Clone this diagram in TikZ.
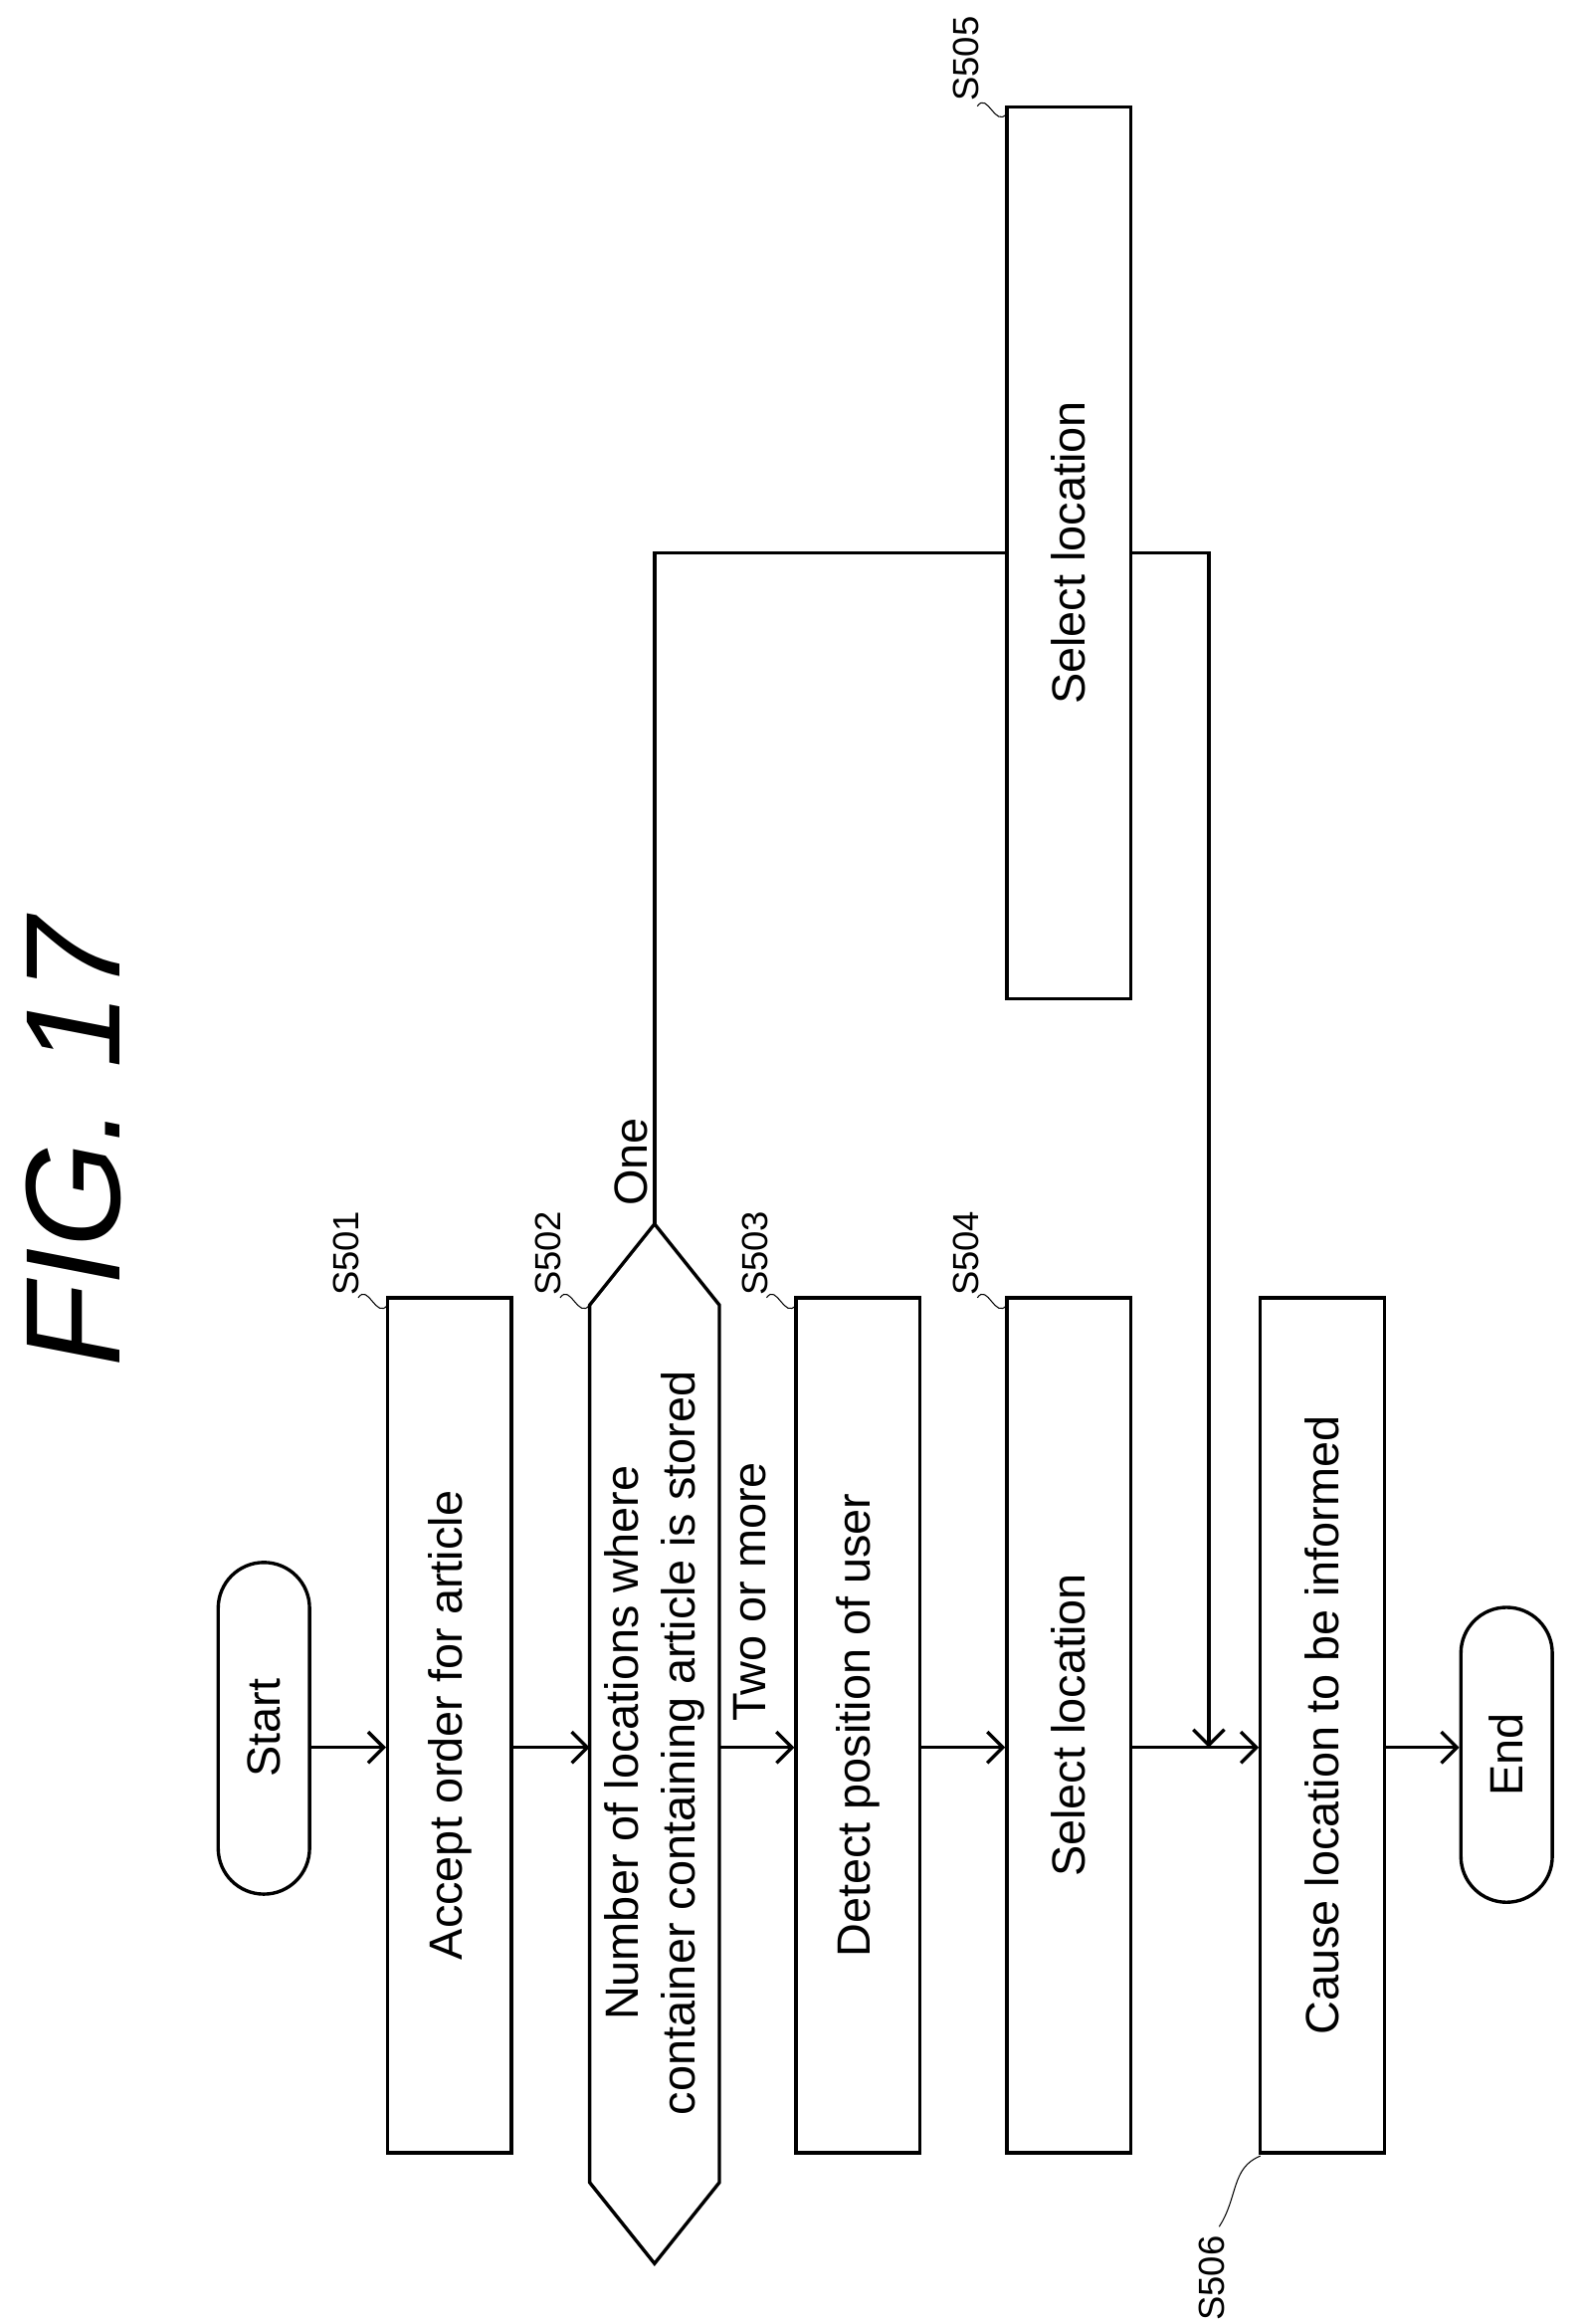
\documentclass[tikz,border=0pt]{standalone}
\usepackage{fontspec}
\setmainfont{Liberation Sans}
\usetikzlibrary{arrows.meta, positioning, calc}

\begin{document}
\begin{tikzpicture}[
                x=0.02cm, y=-0.02cm, line width=1.3pt,
                box/.style={rectangle, draw, rotate=90, minimum width=11.6cm, minimum height=1.68cm, align=center, font=\fontsize{18}{22}\selectfont},
                term/.style={rectangle, draw, rounded corners=0.62cm, rotate=90, minimum height=1.24cm, align=center, font=\fontsize{18}{22}\selectfont},
                steplabel/.style={rotate=90, font=\fontsize{14}{16}\selectfont, inner sep=1pt},
                arrow/.style={-{Straight Barb[length=6pt]}}
            ]
                \useasboundingbox (0,0) rectangle (1075,1576);
                \node[rotate=90, font=\fontsize{52}{60}\selectfont\itshape] (title) at (50,775) {FIG. 17};

                \node[term, minimum width=4.5cm] (start) at (179,1172) {Start};
                \node[box] (s501) at (305,1170) {Accept order for article};
                \node[rotate=90, align=center, font=\fontsize{18}{22}\selectfont] (s502) at (444,1182) {Number of locations where\\container containing article is stored};
                \draw (400,885) coordinate (dtl) -- (444,830) coordinate (dtop) -- (488,885) -- (488,1480) -- (444,1535) coordinate (dbot) -- (400,1480) -- cycle;
                \node[box] (s503) at (582,1170) {Detect position of user};
                \node[box] (s504) at (725,1170) {Select location};
                \node[box, minimum width=12.1cm] (s505) at (725,375) {Select location};
                \node[box] (s506) at (897,1170) {Cause location to be informed};
                \node[term, minimum width=4cm] (end) at (1022,1190) {End};

                % step labels
                \node[steplabel] (l501) at (235,850) {S501};
                \node[steplabel] (l502) at (372,850) {S502};
                \node[steplabel] (l503) at (512,850) {S503};
                \node[steplabel] (l504) at (655,850) {S504};
                \node[steplabel] (l505) at (655,40) {S505};
                \node[steplabel] (l506) at (822,1545) {S506};
                \draw[thin] (243,880) .. controls (250,870) and (255,895) .. (263,885);
                \draw[thin] (380,880) .. controls (387,870) and (392,895) .. (400,885);
                \draw[thin] (520,880) .. controls (527,870) and (532,895) .. (540,885);
                \draw[thin] (663,880) .. controls (670,870) and (675,895) .. (683,885);
                \draw[thin] (663,72) .. controls (670,62) and (675,87) .. (683,77);
                \draw[thin] (827,1510) .. controls (840,1490) and (835,1470) .. (855,1462);

                % connectors
                \coordinate (din) at (400,1185);
                \coordinate (dout) at (488,1185);
                \coordinate (join) at (820,1185);
                \draw[arrow] (start.south |- din) -- (s501.north |- din);
                \draw[arrow] (s501.south |- din) -- (din);
                \draw[arrow] (dout) -- (s503.north |- din);
                \node[rotate=90, anchor=north west, font=\fontsize{18}{22}\selectfont, inner sep=2pt] (two) at (493,1172) {Two or more};
                \draw[arrow] (s503.south |- din) -- (s504.north |- din);
                \draw (s504.south |- din) -- (join);
                \draw[arrow] (join) -- (s506.north |- din);
                \draw[arrow] (s506.south |- din) -- (end.north |- din);
                \draw (dtop) -- (444,375) coordinate (up) -- (s505.north |- up);
                \node[rotate=90, font=\fontsize{18}{22}\selectfont, anchor=west] (one) at (428,825) {One};
                \draw[arrow] (s505.south |- up) -- (820,375) -- (join);
            \end{tikzpicture}
\end{document}
